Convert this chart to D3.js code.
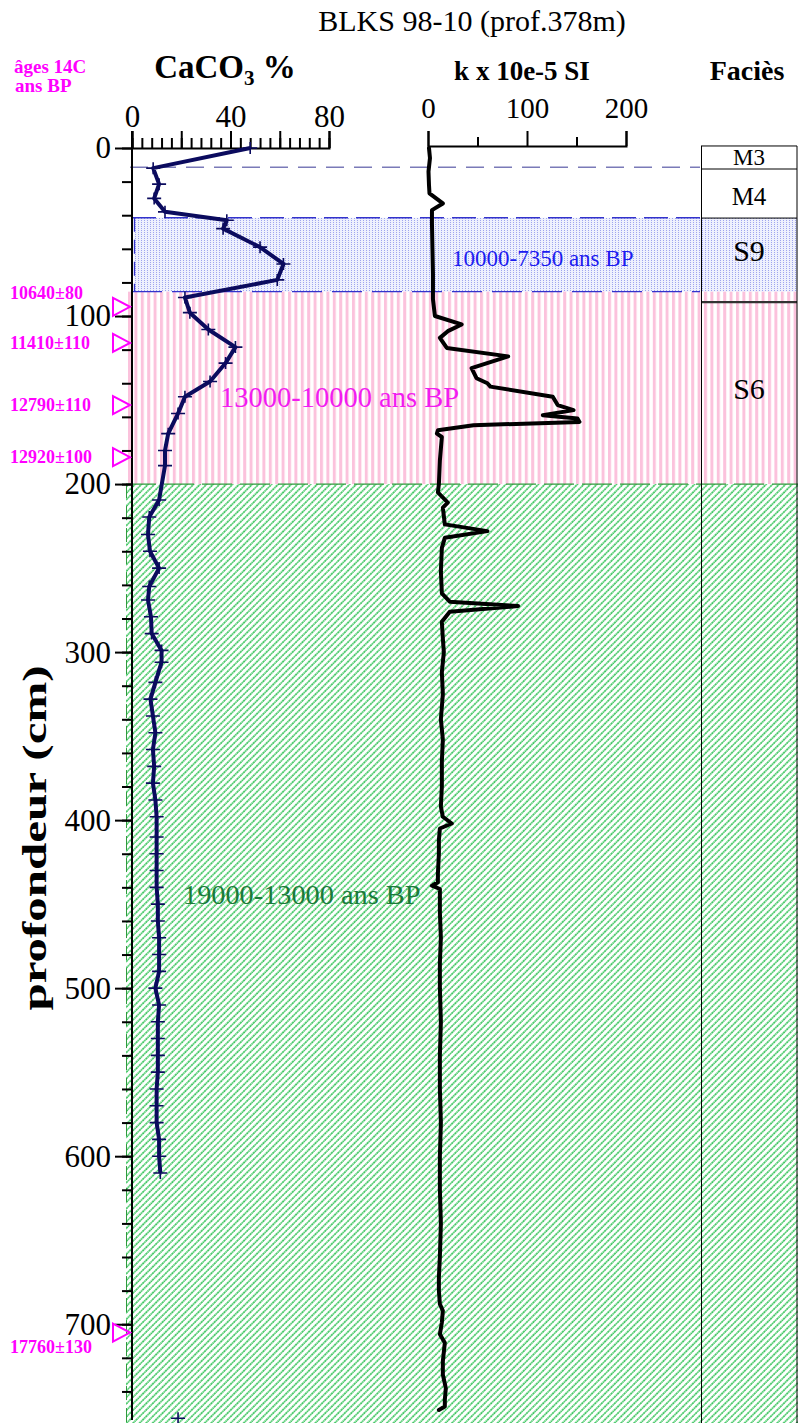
<!DOCTYPE html>
<html>
<head>
<meta charset="utf-8">
<script src="https://cdn.jsdelivr.net/npm/d3@7"></script>
<style>
  body { margin: 0; background: #fff; }
  svg text { font-family: "Liberation Serif", "Times New Roman", serif; }
</style>
</head>
<body>
<div id="container"></div>
<script>
/* CONSTANTS AND GLOBALS */
const width = 798,
  height = 1423;

/* DATA */
// CaCO3 % measured points (depth cm, value %)
const caDepth = [0, 12, 21.5, 30, 38, 43, 48, 59, 69, 78.5, 89, 98, 108, 118.5, 128, 139, 148, 158, 170, 180, 189,
  209.5, 219.6, 230, 240, 250, 261, 269, 279, 289, 299, 306, 318, 328, 338, 348, 358, 368, 378, 388, 398, 410, 420,
  430, 440, 450, 460, 470, 480, 490, 500, 510, 520, 530, 540, 550, 560, 570, 580, 590, 600, 610];
const caValue = [48, 8.6, 11, 9, 13.4, 38.5, 37, 52, 61.5, 59, 21.5, 23.5, 31, 42, 38, 31.7, 21.5, 18.7, 14.7, 13.4, 13.4,
  11, 7, 6.5, 7.3, 11, 7, 6.5, 7.7, 8, 12, 12, 9.5, 7.5, 8.5, 9.5, 8.5, 9, 8.5, 9.5, 10, 10, 10,
  10, 10, 10.5, 10.5, 11, 11, 11, 9.5, 11, 10.5, 10.5, 10.5, 10.5, 10, 10, 10, 11, 11, 11.5];
// lone sample at the base of the core
const caExtraDepth = [756];
const caExtraValue = [18.7];

// magnetic susceptibility k x 10e-5 SI
const kDepth = [0, 6, 14, 22, 27, 33, 37, 45, 60, 75, 90, 100, 105, 109, 113, 119, 124, 131, 137, 140, 142, 148, 153, 156,
  159, 161, 163, 165, 168, 170, 172, 186, 200, 205, 211, 214, 224, 228, 232, 238, 252, 265, 270, 272.6, 276, 282, 292,
  300, 312, 325, 340, 352, 365, 380, 392, 398, 402, 405, 412, 420, 432, 437, 439, 441, 455, 470, 485, 500, 520, 540,
  560, 580, 600, 620, 640, 660, 672, 680, 688, 692, 699, 706, 711, 722, 730, 738, 745, 749, 751];
const kValue = [1, 2, 0.5, 1, 1.5, 15, 4, 4, 4.5, 5, 5, 7, 34, 20, 12, 19, 81, 44, 49, 60, 63, 126, 131, 147,
  116, 151, 153, 46, 10, 9, 14, 12, 11, 10, 20, 15, 17, 60, 17, 14, 13, 14, 22, 91, 22, 14, 15,
  16, 14, 15, 13, 15, 14, 14, 13, 15, 24, 12, 11, 11, 10, 10, 4, 12, 12, 13, 12, 12, 13, 12,
  12, 13, 12, 12, 13, 12, 11, 11, 12, 15, 14, 12, 17, 15, 15, 18, 17, 17, 11];

// 14C ages
const ageLabels = ["10640±80", "11410±110", "12790±110", "12920±100", "17760±130"];
const ageDepths = [94.5, 116, 153, 184, 705];
const ageLabelShift = [-14, 0, 0, 0, 14];

// facies column
const faciesNames = ["M3", "M4", "S9", "S6"];
const faciesTop = [-1.2, 12.5, 41.7, 91.7];
const faciesBottom = [12.5, 41.7, 91.7, 200];
const faciesLabelDepth = [5.5, 28.5, 61, 143];
const faciesFontSize = [23, 25, 30, 30];

// chronozones
const zoneLabels = ["10000-7350 ans BP", "13000-10000 ans BP", "19000-13000 ans BP"];
const zoneTop = [41.5, 85.5, 200];
const zoneBottom = [85.5, 200, 757];

const depthTicks = d3.range(0, 701, 100);
const depthMinorTicks = d3.range(0, 757, 20);
const caTicks = [0, 20, 40, 60, 80];
const caMinorTicks = d3.range(0, 81, 4);
const kTicks = [0, 50, 100, 150, 200];

let yScale, xCa, xK, svg;

init();

function init() {
  /* SCALES */
  yScale = d3.scaleLinear().domain([0, 757]).range([148, 1420]);
  xCa = d3.scaleLinear().domain([0, 80]).range([132, 329]);
  xK = d3.scaleLinear().domain([0, 200]).range([428, 626]);

  svg = d3.select("#container").append("svg")
    .attr("width", width)
    .attr("height", height);

  draw();
}

function draw() {
  const defs = svg.append("defs");

  // blue dots
  const pBlue = defs.append("pattern").attr("id", "pBlue")
    .attr("patternUnits", "userSpaceOnUse").attr("width", 3).attr("height", 2);
  pBlue.append("rect").attr("width", 3).attr("height", 2).attr("fill", "#eef0fd");
  pBlue.append("rect").attr("width", 1).attr("height", 1).attr("fill", "#9ea4ee");

  // pink stripes
  const pPink = defs.append("pattern").attr("id", "pPink")
    .attr("patternUnits", "userSpaceOnUse").attr("width", 6.4).attr("height", 10);
  pPink.append("rect").attr("width", 3).attr("height", 10).attr("fill", "#fbc2dc");

  // green hatch
  const pGreen = defs.append("pattern").attr("id", "pGreen")
    .attr("patternUnits", "userSpaceOnUse").attr("width", 4.6).attr("height", 4.6)
    .attr("patternTransform", "rotate(45)");
  pGreen.append("line").attr("x1", 1).attr("x2", 1).attr("y1", 0).attr("y2", 4.6)
    .attr("stroke", "#3fc661").attr("stroke-width", 1.7).attr("stroke-dasharray", "1.8,0.5");

  const fills = ["url(#pBlue)", "url(#pPink)", "url(#pGreen)"];
  const zoneLeft = [134, 126, 126];
  svg.append("g").selectAll("rect")
    .data(zoneLabels)
    .join("rect")
    .attr("x", (d, i) => zoneLeft[i])
    .attr("y", (d, i) => yScale(zoneTop[i]))
    .attr("width", (d, i) => width - zoneLeft[i])
    .attr("height", (d, i) => yScale(zoneBottom[i]) - yScale(zoneTop[i]) + (i == 2 ? 10 : 0))
    .attr("fill", (d, i) => fills[i]);

  // dashed boundaries
  const dashes = svg.append("g").attr("fill", "none");
  dashes.append("line").attr("x1", 130).attr("x2", 700)
    .attr("y1", yScale(11.5)).attr("y2", yScale(11.5))
    .attr("stroke", "#7a7ab8").attr("stroke-width", 1.5).attr("stroke-dasharray", "18,10");
  dashes.append("line").attr("x1", 132).attr("x2", 700)
    .attr("y1", yScale(zoneTop[0])).attr("y2", yScale(zoneTop[0]))
    .attr("stroke", "#3333cc").attr("stroke-width", 1.5).attr("stroke-dasharray", "24,8");
  dashes.append("line").attr("x1", 132).attr("x2", 700)
    .attr("y1", yScale(zoneTop[1])).attr("y2", yScale(zoneTop[1]))
    .attr("stroke", "#3333cc").attr("stroke-width", 1.3).attr("stroke-dasharray", "30,10");
  dashes.append("line").attr("x1", 134.5).attr("x2", 134.5)
    .attr("y1", yScale(zoneTop[0])).attr("y2", yScale(zoneTop[1]))
    .attr("stroke", "#3333cc").attr("stroke-width", 1.3).attr("stroke-dasharray", "14,8");
  dashes.append("line").attr("x1", 126).attr("x2", width)
    .attr("y1", yScale(zoneTop[2])).attr("y2", yScale(zoneTop[2]))
    .attr("stroke", "#2f9a3c").attr("stroke-width", 1.3).attr("stroke-dasharray", "30,8");
  dashes.append("line").attr("x1", 126.5).attr("x2", 126.5)
    .attr("y1", yScale(zoneTop[2])).attr("y2", height)
    .attr("stroke", "#2f9a3c").attr("stroke-width", 1).attr("stroke-dasharray", "14,8");

  // zone labels
  const zoneColors = ["#1c1cf0", "#f21cf0", "#1a7a3a"];
  const zoneX = [452, 220, 183];
  const zoneY = [266, 407, 904];
  const zoneSize = [23, 28.5, 28.3];
  svg.append("g").selectAll("text")
    .data(zoneLabels)
    .join("text")
    .attr("x", (d, i) => zoneX[i])
    .attr("y", (d, i) => zoneY[i])
    .attr("font-size", (d, i) => zoneSize[i])
    .attr("fill", (d, i) => zoneColors[i])
    .text(d => d);

  // facies column
  const fac = svg.append("g");
  fac.selectAll("line.sep")
    .data(faciesNames)
    .join("line")
    .attr("class", "sep")
    .attr("x1", 701).attr("x2", 797)
    .attr("y1", (d, i) => yScale(faciesTop[i]))
    .attr("y2", (d, i) => yScale(faciesTop[i]))
    .attr("stroke", (d, i) => i == 3 ? "#333" : "#000")
    .attr("stroke-width", (d, i) => i == 3 ? 2.2 : 1);
  fac.append("line").attr("x1", 701.5).attr("x2", 701.5)
    .attr("y1", yScale(faciesTop[0])).attr("y2", height).attr("stroke", "#000");
  fac.append("line").attr("x1", 797).attr("x2", 797)
    .attr("y1", yScale(faciesTop[0])).attr("y2", height).attr("stroke", "#000");
  fac.selectAll("text")
    .data(faciesNames)
    .join("text")
    .attr("x", 749)
    .attr("y", (d, i) => yScale(faciesLabelDepth[i]))
    .attr("dy", "0.35em")
    .attr("text-anchor", "middle")
    .attr("font-size", (d, i) => faciesFontSize[i])
    .text(d => d);

  /* AXES */
  const axisDepthMinor = d3.axisLeft(yScale).tickValues(depthMinorTicks).tickSize(10).tickFormat("");
  const axisDepth = d3.axisLeft(yScale).tickValues(depthTicks).tickSize(17).tickPadding(4);
  const gDm = svg.append("g").attr("transform", "translate(132,0)").call(axisDepthMinor);
  const gD = svg.append("g").attr("transform", "translate(132,0)").call(axisDepth);
  gDm.select(".domain").remove();
  gD.select(".domain").remove();
  svg.append("line").attr("x1", 132).attr("x2", 132).attr("y1", 131).attr("y2", 1420)
    .attr("stroke", "#000").attr("stroke-width", 2);
  gD.selectAll("text").attr("font-size", 31).attr("font-family", "Liberation Serif");

  const axisCaMinor = d3.axisTop(xCa).tickValues(caMinorTicks).tickSize(10).tickFormat("");
  const axisCa = d3.axisTop(xCa).tickValues(caTicks).tickSize(17).tickPadding(4)
    .tickFormat(d => d % 40 == 0 ? d : "");
  const gCm = svg.append("g").attr("transform", "translate(0,148)").call(axisCaMinor);
  const gC = svg.append("g").attr("transform", "translate(0,148)").call(axisCa);
  gCm.select(".domain").remove();
  gC.select(".domain").attr("stroke-width", 2);
  gC.selectAll("text").attr("font-size", 31).attr("font-family", "Liberation Serif");

  const axisK = d3.axisTop(xK).tickValues(kTicks).tickSize(15).tickPadding(13)
    .tickFormat(d => d % 100 == 0 ? d : "");
  const gK = svg.append("g").attr("transform", "translate(0,146)").call(axisK);
  gK.select(".domain").attr("stroke-width", 2);
  gK.selectAll(".tick line").attr("stroke-width", 2)
    .attr("y2", d => d % 100 == 0 ? -15 : -9);
  gK.selectAll("text").attr("font-size", 29).attr("font-family", "Liberation Serif");
  [gDm, gD, gCm, gC].forEach(g => g.selectAll(".tick line").attr("stroke-width", 2));

  /* CURVES */
  const caPts = caDepth.map((d, i) => [xCa(caValue[i]), yScale(d)]);
  svg.append("path")
    .attr("d", d3.line()(caPts))
    .attr("fill", "none")
    .attr("stroke", "#0b0b5e")
    .attr("stroke-width", 4)
    .attr("stroke-linejoin", "round");

  const allCa = caPts.concat(caExtraDepth.map((d, i) => [xCa(caExtraValue[i]), yScale(d)]));
  svg.append("g").selectAll("path")
    .data(allCa)
    .join("path")
    .attr("d", d => `M${d[0] - 7},${d[1]}h14M${d[0]},${d[1] - 6}v12`)
    .attr("stroke", "#0b0b5e")
    .attr("stroke-width", 1.6);

  const kPts = kDepth.map((d, i) => [xK(kValue[i]), yScale(d)]);
  svg.append("path")
    .attr("d", d3.line()(kPts))
    .attr("fill", "none")
    .attr("stroke", "#000")
    .attr("stroke-width", 4)
    .attr("stroke-linejoin", "round")
    .attr("stroke-linecap", "round");

  /* AGES */
  const ages = svg.append("g");
  ages.selectAll("path")
    .data(ageDepths)
    .join("path")
    .attr("d", d => `M113,${yScale(d) - 9}L130,${yScale(d)}L113,${yScale(d) + 9}Z`)
    .attr("fill", "none")
    .attr("stroke", "#ff00ff")
    .attr("stroke-width", 2);
  ages.selectAll("text")
    .data(ageLabels)
    .join("text")
    .attr("x", 10)
    .attr("y", (d, i) => yScale(ageDepths[i]) + ageLabelShift[i])
    .attr("dy", "0.35em")
    .attr("font-size", 18)
    .attr("font-weight", "bold")
    .attr("fill", "#ff00ff")
    .text(d => d);

  /* TITLES */
  svg.append("text").attr("x", 472).attr("y", 31).attr("text-anchor", "middle")
    .attr("font-size", 30).text("BLKS 98-10 (prof.378m)");

  const ca = svg.append("text").attr("x", 225).attr("y", 78).attr("text-anchor", "middle")
    .attr("font-size", 33).attr("font-weight", "bold");
  ca.append("tspan").text("CaCO");
  ca.append("tspan").attr("font-size", 21).attr("dy", 7).text("3");
  ca.append("tspan").attr("dy", -7).text(" %");

  svg.append("text").attr("x", 522).attr("y", 80).attr("text-anchor", "middle")
    .attr("font-size", 27).attr("font-weight", "bold").text("k x 10e-5 SI");
  svg.append("text").attr("x", 747).attr("y", 80).attr("text-anchor", "middle")
    .attr("font-size", 28).attr("font-weight", "bold").text("Faciès");

  svg.append("text").attr("x", 14).attr("y", 73).attr("font-size", 19)
    .attr("font-weight", "bold").attr("fill", "#ff00ff").text("âges 14C");
  svg.append("text").attr("x", 15).attr("y", 92).attr("font-size", 19)
    .attr("font-weight", "bold").attr("fill", "#ff00ff").text("ans BP");

  svg.append("text")
    .attr("transform", "translate(46,838) rotate(-90)")
    .attr("text-anchor", "middle")
    .attr("font-size", 33)
    .attr("font-weight", "bold")
    .attr("textLength", 345)
    .attr("lengthAdjust", "spacingAndGlyphs")
    .text("profondeur (cm)");
}
</script>
</body>
</html>
